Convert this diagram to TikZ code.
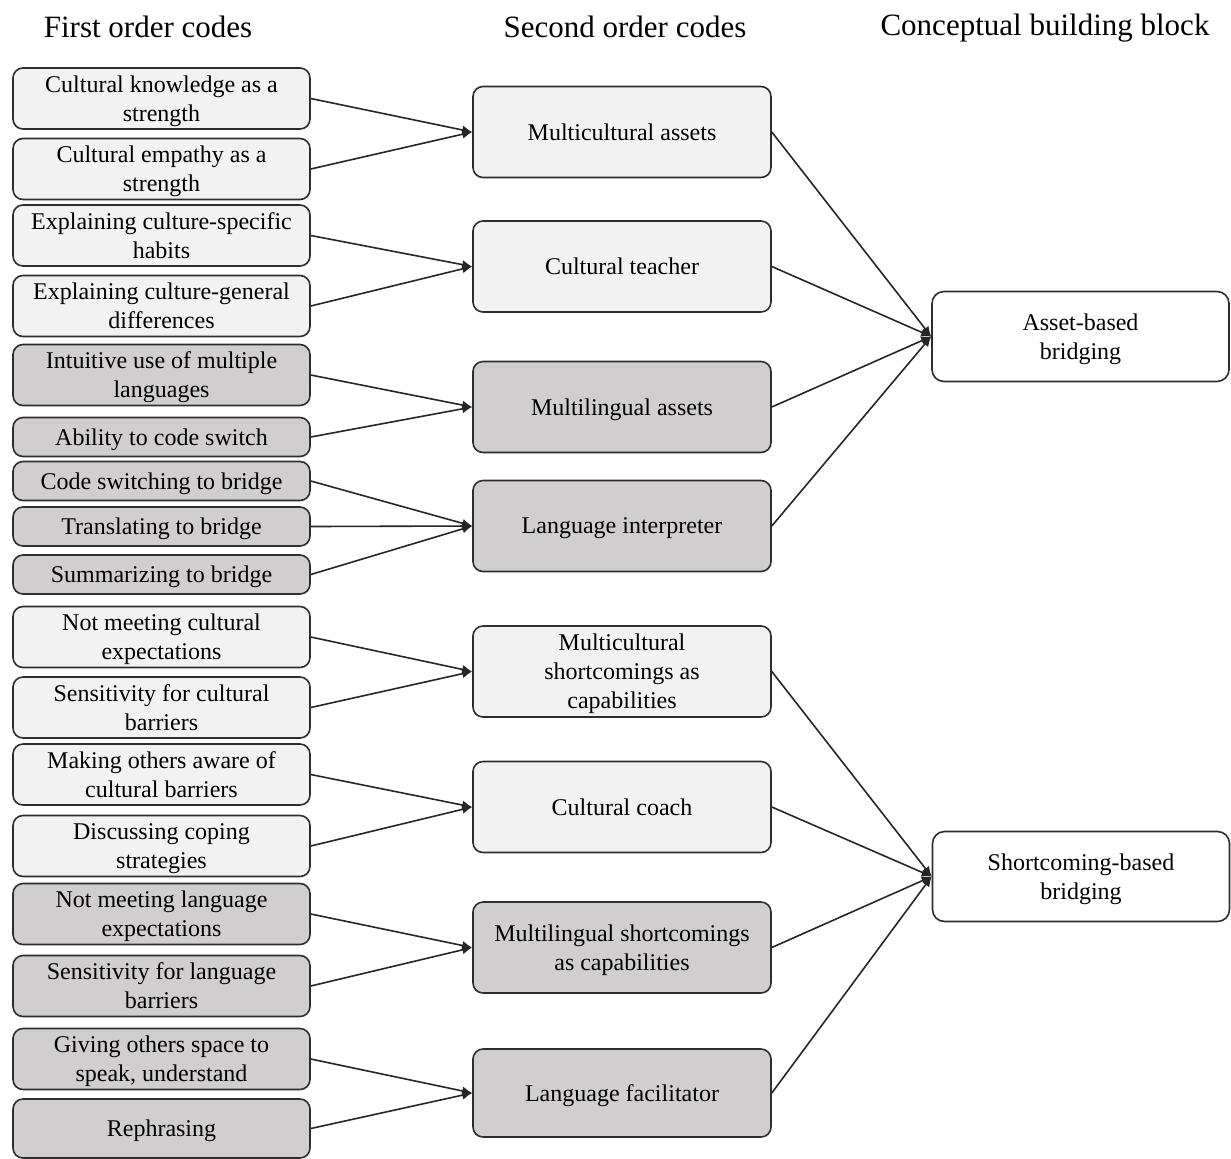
\documentclass[tikz,border=0pt]{standalone}
\usepackage{fontspec}
\setmainfont{Liberation Serif}
\usetikzlibrary{arrows.meta,positioning}
\definecolor{lightbox}{RGB}{242,242,242}
\definecolor{darkbox}{RGB}{208,206,206}
\definecolor{edgecol}{RGB}{45,45,45}

\begin{document}
\begin{tikzpicture}[x={(0.5pt,0pt)},y={(0pt,-0.5pt)},
  box/.style={draw=edgecol,line width=0.8pt,rounded corners=5pt,align=center,inner sep=0pt,
    text depth=0pt,font=\fontsize{12}{14.5}\selectfont},
  codebox/.style={box,minimum width=148.5pt,minimum height=30.5pt},
  shortbox/.style={codebox,minimum height=19.5pt},
  themebox/.style={box,minimum width=149pt,minimum height=45.5pt},
  blockbox/.style={box,fill=white,rounded corners=6pt,minimum width=148.5pt,minimum height=45pt},
  light/.style={fill=lightbox},
  dark/.style={fill=darkbox},
  head/.style={font=\fontsize{15.5}{18}\selectfont},
  arr/.style={-{Latex[length=5pt,width=4.5pt]},line width=0.8pt,black!85}]
\useasboundingbox (0,0) rectangle (1231,1158);

% column headings
\node[head] (h1) at (148,27) {First order codes};
\node[head] (h2) at (625,27) {Second order codes};
\node[head] (h3) at (1045,28.5) {Conceptual building block};

% first order codes
\node[codebox,light] (c1) at (161.5,98.5) {Cultural knowledge as a\\strength};
\node[codebox,light] (c2) at (161.5,169) {Cultural empathy as a\\strength};
\node[codebox,light] (c3) at (161.5,235.5) {Explaining culture-specific\\habits};
\node[codebox,light] (c4) at (161.5,306) {Explaining culture-general\\differences};
\node[codebox,dark] (c5) at (161.5,375) {Intuitive use of multiple\\languages};
\node[shortbox,dark] (c6) at (161.5,437) {Ability to code switch};
\node[shortbox,dark] (c7) at (161.5,481) {Code switching to bridge};
\node[shortbox,dark] (c8) at (161.5,526.5) {Translating to bridge};
\node[shortbox,dark] (c9) at (161.5,574.5) {Summarizing to bridge};
\node[codebox,light] (c10) at (161.5,637) {Not meeting cultural\\expectations};
\node[codebox,light] (c11) at (161.5,707.5) {Sensitivity for cultural\\barriers};
\node[codebox,light] (c12) at (161.5,774.5) {Making others aware of\\cultural barriers};
\node[codebox,light] (c13) at (161.5,846) {Discussing coping\\strategies};
\node[codebox,dark] (c14) at (161.5,914) {Not meeting language\\expectations};
\node[codebox,dark] (c15) at (161.5,986) {Sensitivity for language\\barriers};
\node[codebox,dark] (c16) at (161.5,1059) {Giving others space to\\speak, understand};
\node[codebox,dark,minimum height=29.5pt] (c17) at (161.5,1128.5) {Rephrasing};

% second order codes
\node[themebox,light] (s1) at (622,132) {Multicultural assets};
\node[themebox,light] (s2) at (622,266.5) {Cultural teacher};
\node[themebox,dark] (s3) at (622,407) {Multilingual assets};
\node[themebox,dark] (s4) at (622,526) {Language interpreter};
\node[themebox,light] (s5) at (622,671.5) {Multicultural\\shortcomings as\\capabilities};
\node[themebox,light] (s6) at (622,807) {Cultural coach};
\node[themebox,dark] (s7) at (622,947.5) {Multilingual shortcomings\\as capabilities};
\node[themebox,dark,minimum height=44pt] (s8) at (622,1093) {Language facilitator};

% building blocks
\node[blockbox] (b1) at (1080.5,336.5) {Asset-based\\bridging};
\node[blockbox] (b2) at (1081,876.5) {Shortcoming-based\\bridging};

% first -> second
\foreach \a/\b in {c1/s1,c2/s1,c3/s2,c4/s2,c5/s3,c6/s3,c7/s4,c8/s4,c9/s4,
  c10/s5,c11/s5,c12/s6,c13/s6,c14/s7,c15/s7,c16/s8,c17/s8}
  \draw[arr] (\a.east) -- (\b.west);

% second -> building block
\foreach \a in {s1,s2,s3,s4}
  \draw[arr] (\a.east) -- (b1.west);
\foreach \a in {s5,s6,s7,s8}
  \draw[arr] (\a.east) -- (b2.west);
\end{tikzpicture}
\end{document}
